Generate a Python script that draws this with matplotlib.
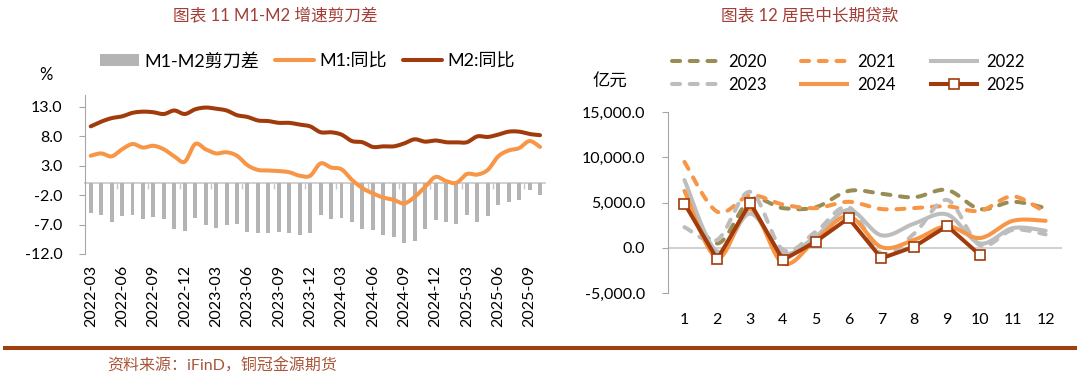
import numpy as np
import pandas as pd
import matplotlib
matplotlib.use("Agg")
import matplotlib.pyplot as plt
from matplotlib.lines import Line2D
from matplotlib.patches import Patch

plt.rcParams['font.family'] = ['Lato', 'Noto Sans CJK SC', 'DejaVu Sans']

# ---------------- data: left chart (M1, M2 yoy, %) ----------------
months = list(pd.period_range('2022-03', '2025-10', freq='M').strftime('%Y-%m'))
tick_labels = ['2022-03', '2022-06', '2022-09', '2022-12', '2023-03', '2023-06',
               '2023-09', '2023-12', '2024-03', '2024-06', '2024-09', '2024-12',
               '2025-03', '2025-06', '2025-09']
m1_yoy = [4.7, 5.1, 4.6, 5.8, 6.7, 6.1, 6.4, 5.8, 4.6, 3.7,
          6.7, 5.8, 5.1, 5.3, 4.7, 3.1, 2.3, 2.2, 2.1, 1.9, 1.3, 1.3,
          3.4, 2.7, 2.4, 0.6, -0.8, -1.7, -2.4, -2.8, -3.4, -2.3, -0.6, 1.1,
          0.4, 0.1, 1.6, 1.5, 2.3, 4.6, 5.6, 6.0, 7.2, 6.2]
m2_yoy = [9.7, 10.5, 11.1, 11.4, 12.0, 12.2, 12.1, 11.8, 12.4, 11.8,
          12.6, 12.9, 12.7, 12.4, 11.6, 11.3, 10.7, 10.6, 10.3, 10.3, 10.0, 9.7,
          8.7, 8.7, 8.3, 7.2, 7.0, 6.2, 6.3, 6.3, 6.8, 7.5, 7.1, 7.3,
          7.0, 7.0, 7.0, 8.0, 7.9, 8.3, 8.8, 8.8, 8.4, 8.2]
scissor = [-5.0, -5.4, -6.5, -5.6, -5.3, -6.1, -5.7, -6.0, -7.8, -8.1,
           -5.9, -7.1, -7.6, -7.1, -6.9, -8.2, -8.4, -8.4, -8.2, -8.4, -8.7, -8.4,
           -5.3, -6.0, -5.9, -6.6, -7.8, -7.9, -8.7, -9.1, -10.2, -9.8, -7.7, -6.2,
           -6.6, -6.9, -5.4, -6.5, -5.6, -3.7, -3.2, -2.8, -1.2, -2.0]

# ---------------- data: right chart (household mid/long-term loans, 亿元) ----------------
cal_months = [1, 2, 3, 4, 5, 6, 7, 8, 9, 10, 11, 12]
loans_2020 = [5000, 500, 5300, 4400, 4500, 6300, 6000, 5600, 6400, 4300, 5100, 4400]
loans_2021 = [9500, 4000, 5800, 4800, 4400, 5100, 4300, 4400, 4600, 4100, 5700, 3900]
loans_2022 = [7500, -400, 3800, -600, 1300, 4200, 1400, 2700, 3700, 500, 2200, 1900]
loans_2023 = [2300, 900, 6200, -200, 1800, 4500, -600, 1600, 5300, 300, 2000, 1500]
loans_2024 = [6300, -1100, 4300, -1700, 900, 3500, 100, 900, 2400, 1100, 3000, 3000]
loans_2025 = [4900, -1250, 5000, -1330, 700, 3300, -1140, 150, 2430, -770]

# ---------------- styles ----------------
C_BAR = '#B4B4B4'
C_M1 = '#F79646'
C_M2 = '#A23B0B'
C_OLIVE = '#988D55'
C_GRAY = '#BDBDBD'
C_AXIS = '#A6A6A6'
C_TITLE = '#A13F38'


def smooth(xs, ys, n=20):
    """Excel-like smoothed line (Catmull-Rom through the data points)."""
    P = np.column_stack([np.asarray(xs, float), np.asarray(ys, float)])
    P = np.vstack([P[0], P, P[-1]])
    t = np.linspace(0, 1, n, endpoint=False)[:, None]
    segs = []
    for i in range(1, len(P) - 2):
        p0, p1, p2, p3 = P[i - 1], P[i], P[i + 1], P[i + 2]
        segs.append(0.5 * (2 * p1 + (-p0 + p2) * t + (2 * p0 - 5 * p1 + 4 * p2 - p3) * t ** 2
                           + (-p0 + 3 * p1 - 3 * p2 + p3) * t ** 3))
    segs.append(P[-2][None, :])
    S = np.vstack(segs)
    return S[:, 0], S[:, 1]


fig = plt.figure(figsize=(10.78, 3.80), dpi=100)

# ================= left chart =================
axL = fig.add_axes([0.0793, 0.3316, 0.4265, 0.4179])
x = np.arange(len(months))
axL.bar(x, scissor, width=0.38, color=C_BAR, zorder=2)
sx, sy = smooth(x, m1_yoy)
axL.plot(sx, sy, color=C_M1, lw=2.9, solid_capstyle='round', zorder=3)
sx, sy = smooth(x, m2_yoy)
axL.plot(sx, sy, color=C_M2, lw=2.9, solid_capstyle='round', zorder=4)
axL.set_xlim(-0.5, len(months) - 0.5)
axL.set_ylim(-12, 15)
yt = [-12, -7, -2, 3, 8, 13]
axL.set_yticks(yt)
axL.set_yticklabels([f'{v:.1f}' for v in yt])
axL.set_xticks([months.index(m) for m in tick_labels])
axL.set_xticklabels(tick_labels, rotation=90)
for s in ['top', 'right', 'bottom']:
    axL.spines[s].set_visible(False)
axL.spines['left'].set_color(C_AXIS)
axL.tick_params(axis='y', direction='out', length=4.5, color=C_AXIS, pad=12, labelsize=11.5)
axL.tick_params(axis='x', length=0, pad=8, labelsize=11.5)
# category axis crossing at zero, with tick marks between categories
sec = axL.secondary_xaxis(12 / 27)
sec.set_xticks(np.arange(2.5, len(months) - 0.5, 3))
sec.tick_params(direction='out', length=4, color='#C8C8C8', width=1, labelbottom=False)
sec.spines['bottom'].set_color('#C8C8C8')
sec.spines['bottom'].set_linewidth(1.2)

hL = [Patch(facecolor=C_BAR, edgecolor='none'),
      Line2D([], [], color=C_M1, lw=2.9, solid_capstyle='round'),
      Line2D([], [], color=C_M2, lw=2.9, solid_capstyle='round')]
fig.legend(hL, ['M1-M2剪刀差', 'M1:同比', 'M2:同比'], ncol=3, loc='center left',
           bbox_to_anchor=(100 / 1078, 1 - 61 / 380), frameon=False, fontsize=13,
           handlelength=2.15, handletextpad=0.3, columnspacing=0.9,
           borderpad=0, borderaxespad=0)
fig.text(46 / 1078, 1 - 75 / 380, '%', ha='center', va='center', fontsize=12)
fig.text(275 / 1078, 1 - 15 / 380, '图表 11 M1-M2 增速剪刀差', ha='center', va='center',
         fontsize=12, color=C_TITLE)

# ================= right chart =================
axR = fig.add_axes([0.6197, 0.2282, 0.3655, 0.4768])
axR.axhline(0, color='#C8C8C8', lw=1.2, zorder=1)
dash = dict(dashes=(2.0, 2.4), dash_capstyle='round')
series = [(loans_2020, C_OLIVE, dash), (loans_2021, C_M1, dash),
          (loans_2022, C_GRAY, {}), (loans_2023, C_GRAY, dash), (loans_2024, C_M1, {})]
for vals, col, st in series:
    sx, sy = smooth(cal_months, vals)
    axR.plot(sx, sy, color=col, lw=2.9, solid_capstyle='round', zorder=2, **st)
axR.plot(cal_months[:len(loans_2025)], loans_2025, color=C_M2, lw=2.9, marker='s', ms=7.5,
         mfc='white', mec=C_M2, mew=1.2, zorder=5)
axR.set_xlim(0.5, 12.5)
axR.set_ylim(-5000, 15000)
yr = [-5000, 0, 5000, 10000, 15000]
axR.set_yticks(yr)
axR.set_yticklabels([f'{v:,.1f}' for v in yr])
axR.set_xticks(cal_months)
axR.set_xticklabels([str(m) for m in cal_months])
for s in ['top', 'right', 'bottom']:
    axR.spines[s].set_visible(False)
axR.spines['left'].set_color(C_AXIS)
axR.tick_params(axis='y', direction='out', length=4.5, color=C_AXIS, pad=12, labelsize=11.5)
axR.tick_params(axis='x', length=0, pad=14, labelsize=11.5)

hR = [Line2D([], [], color=C_OLIVE, lw=2.9, **dash),
      Line2D([], [], color=C_GRAY, lw=2.9, **dash),
      Line2D([], [], color=C_M1, lw=2.9, **dash),
      Line2D([], [], color=C_M1, lw=2.9),
      Line2D([], [], color=C_GRAY, lw=2.9),
      Line2D([], [], color=C_M2, lw=2.9, marker='s', ms=7.5, mfc='white', mec=C_M2, mew=1.2)]
fig.legend(hR, ['2020', '2023', '2021', '2024', '2022', '2025'], ncol=3, loc='center left',
           bbox_to_anchor=(672 / 1078, 1 - 73.5 / 380), frameon=False, fontsize=12,
           handlelength=2.75, handletextpad=0.6, columnspacing=2.1, labelspacing=0.42,
           numpoints=1, borderpad=0, borderaxespad=0)
fig.text(610 / 1078, 1 - 82 / 380, '亿元', ha='center', va='center', fontsize=12.5)
fig.text(810 / 1078, 1 - 15 / 380, '图表 12 居民中长期贷款', ha='center', va='center',
         fontsize=12, color=C_TITLE)

# ================= footer =================
fig.add_artist(Line2D([5 / 1078, 1075 / 1078], [1 - 347.5 / 380] * 2,
                      transform=fig.transFigure, color='#A0400C', lw=2.9))
fig.text(107 / 1078, 1 - 366 / 380, '资料来源：iFinD，铜冠金源期货', ha='left', va='center',
         fontsize=11.5, color='#A9553A')

fig.savefig('out.png', dpi=100)
